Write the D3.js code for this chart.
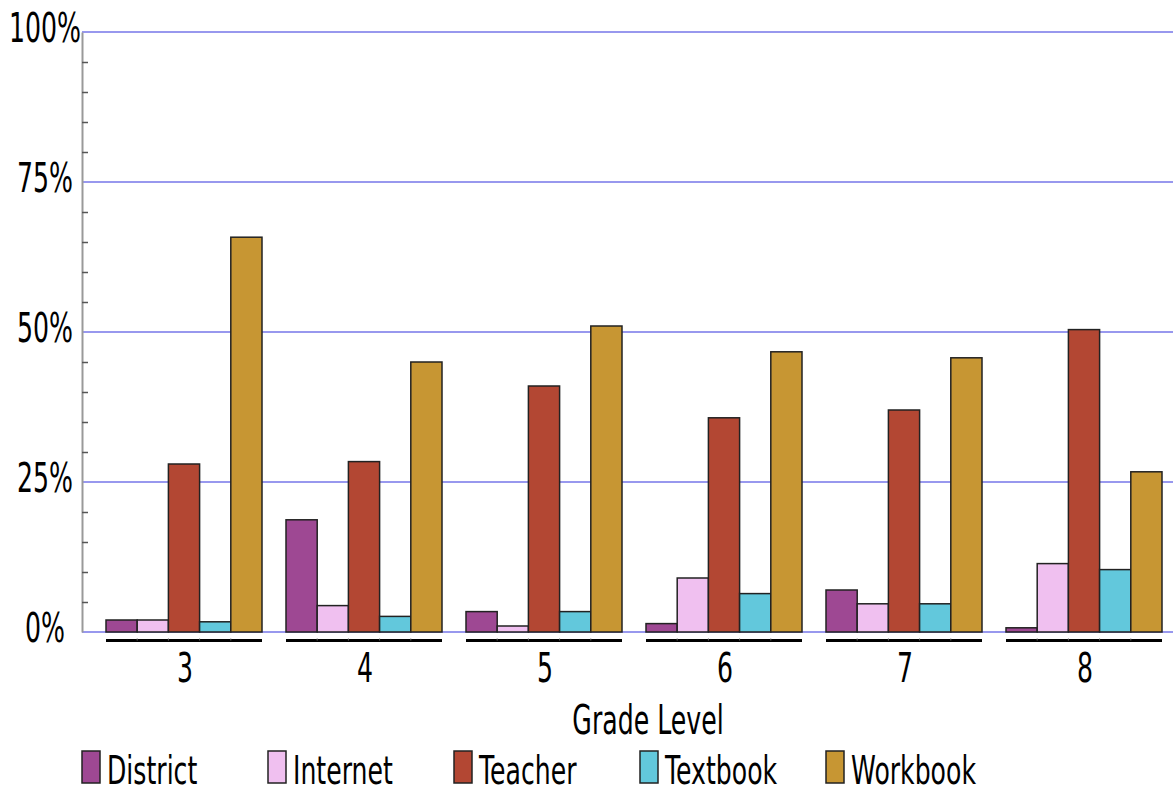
<!DOCTYPE html>
<html>
<head>
<meta charset="UTF-8">
<title>Grade Level</title>
<script src="https://cdn.jsdelivr.net/npm/d3@7"></script>
<style>
  body { margin: 0; background: #fff; }
  text { font-family: "DejaVu Sans", sans-serif; fill: #000; }
</style>
</head>
<body>
<script>
// data (percent)
var grades = ["3", "4", "5", "6", "7", "8"];
var seriesNames = ["District", "Internet", "Teacher", "Textbook", "Workbook"];
var district = [2.0, 18.7, 3.4, 1.4, 7.0, 0.7];
var internet = [2.0, 4.4, 1.0, 9.0, 4.7, 11.4];
var teacher  = [28.0, 28.4, 41.0, 35.7, 37.0, 50.4];
var textbook = [1.7, 2.6, 3.4, 6.4, 4.7, 10.4];
var workbook = [65.8, 45.0, 51.0, 46.7, 45.7, 26.7];
var yTicks = [0, 25, 50, 75, 100];
var yTickLabels = ["0%", "25%", "50%", "75%", "100%"];
var minorTicks = [5, 10, 15, 20, 30, 35, 40, 45, 55, 60, 65, 70, 80, 85, 90, 95];
var colors = ["#9e4893", "#f0c0f0", "#b34733", "#62c8dc", "#c79633"];

var allSeries = [district, internet, teacher, textbook, workbook];

var width = 1173, height = 791;
var axisX = 82;
var squeeze = 0.63; // the chart's text is drawn narrow

var svg = d3.select("body").append("svg")
    .attr("width", width)
    .attr("height", height);

var y = d3.scaleLinear().domain([0, 100]).range([632, 32]);

var x0 = d3.scaleBand()
    .domain(grades)
    .range([94, 1174])
    .paddingInner(24 / 180)
    .paddingOuter(12 / 180);

var x1 = d3.scaleBand()
    .domain(seriesNames)
    .range([0, x0.bandwidth()]);

function label(parent, x, yy, txt, size, anchor, sx) {
  parent.append("g")
    .attr("transform", "translate(" + x + "," + yy + ") scale(" + (sx || squeeze) + ",1)")
    .append("text")
    .attr("font-size", size)
    .attr("text-anchor", anchor)
    .text(txt);
}

// grid lines
svg.append("g").selectAll("line")
  .data(yTicks)
  .join("line")
  .attr("x1", axisX).attr("x2", width)
  .attr("y1", function(d) { return y(d); })
  .attr("y2", function(d) { return y(d); })
  .attr("stroke", "#9898ee")
  .attr("stroke-width", 2);

// vertical axis with small ticks
var axisG = svg.append("g")
  .attr("transform", "translate(" + axisX + ",0)")
  .call(d3.axisRight(y).tickValues(minorTicks).tickSize(6).tickSizeOuter(0).tickFormat(""));
axisG.select(".domain").attr("stroke", "#999").attr("stroke-width", 2);
axisG.selectAll(".tick line").attr("stroke", "#555").attr("stroke-width", 1.5);

// tick labels
yTicks.forEach(function(t, i) {
  label(svg, 45, y(t) + 10, yTickLabels[i], 40, "middle");
});

// bars
var groups = svg.append("g").selectAll("g")
  .data(grades)
  .join("g")
  .attr("transform", function(d) { return "translate(" + x0(d) + ",0)"; });

groups.selectAll("rect")
  .data(function(g, gi) {
    return seriesNames.map(function(s, si) { return { s: s, i: si, v: allSeries[si][gi] }; });
  })
  .join("rect")
  .attr("x", function(d) { return x1(d.s); })
  .attr("y", function(d) { return y(d.v); })
  .attr("width", x1.bandwidth())
  .attr("height", function(d) { return y(0) - y(d.v); })
  .attr("fill", function(d) { return colors[d.i]; })
  .attr("stroke", "#222")
  .attr("stroke-width", 1.5);

// underline below each group
groups.append("line")
  .attr("x1", 0).attr("x2", x0.bandwidth())
  .attr("y1", 640.5).attr("y2", 640.5)
  .attr("stroke", "#000")
  .attr("stroke-width", 3);

groups.selectAll("line.sep")
  .data(seriesNames.slice(1))
  .join("line")
  .attr("class", "sep")
  .attr("x1", function(d) { return x1(d); })
  .attr("x2", function(d) { return x1(d); })
  .attr("y1", 638.5).attr("y2", 640.5)
  .attr("stroke", "#666")
  .attr("stroke-width", 1);

// category labels
grades.forEach(function(g) {
  label(svg, x0(g) + x0.bandwidth() / 2 + 1, 682, g, 40, "middle");
});

// axis title
label(svg, 648, 734, "Grade Level", 40, "middle");

// legend
seriesNames.forEach(function(s, i) {
  var lx = 82 + i * 186;
  svg.append("rect")
    .attr("x", lx).attr("y", 751)
    .attr("width", 18).attr("height", 32)
    .attr("fill", colors[i])
    .attr("stroke", "#222")
    .attr("stroke-width", 1.5);
  label(svg, lx + 25, 784, s, 39, "start", 0.645);
});
</script>
</body>
</html>
